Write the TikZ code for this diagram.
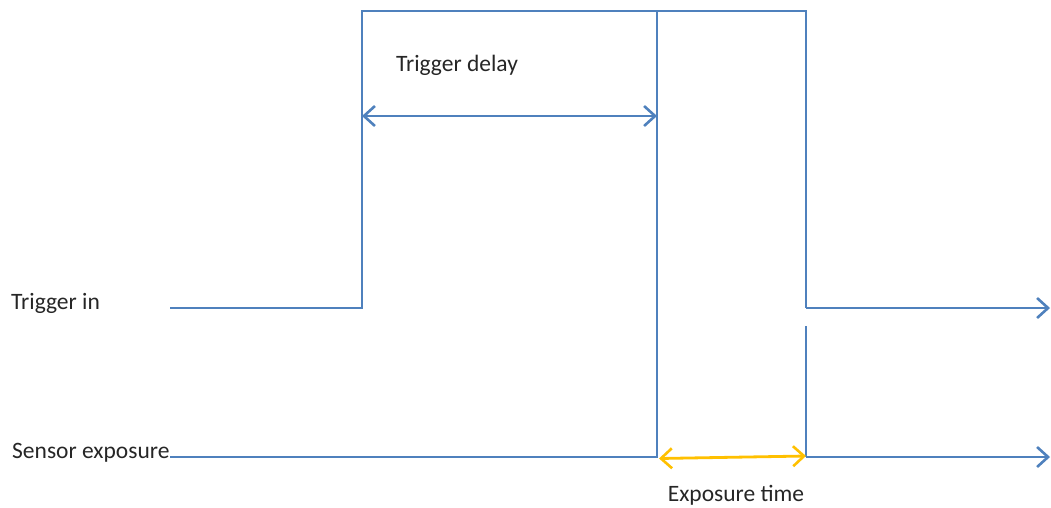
\documentclass[tikz,border=0pt]{standalone}
\usepackage{fontspec}
\setmainfont{Carlito}
\usetikzlibrary{arrows.meta}
\definecolor{sigblue}{HTML}{4F81BD}
\definecolor{expyellow}{HTML}{FFC000}
\tikzset{
  signal/.style={draw=sigblue, line width=2.8pt},
  barb/.style={-{Straight Barb[length=11pt,width=20pt,line width=2.6pt]}},
  dim/.style={line width=2.8pt, {Straight Barb[length=11pt,width=20pt,line width=2.6pt]}-{Straight Barb[length=11pt,width=20pt,line width=2.6pt]}},
  lbl/.style={inner sep=0pt, font=\fontsize{23.5}{28}\selectfont, text=black!85}
}
\begin{document}
\begin{tikzpicture}[x=1pt,y=-1pt]
\useasboundingbox (0,0) rectangle (1051,507);
% coordinates
\coordinate (t0) at (170,308);
\coordinate (t1) at (362,308);
\coordinate (t2) at (362,11);
\coordinate (t3) at (806,11);
\coordinate (t4) at (806,308);
\coordinate (t5) at (1050,308);
\coordinate (s0) at (170,457);
\coordinate (s1) at (657,457);
\coordinate (s2) at (657,11);
\coordinate (s3) at (806,326);
\coordinate (s4) at (806,457);
\coordinate (s5) at (1050,457);
\coordinate (d0) at (362,116);
\coordinate (d1) at (657,116);
\coordinate (e0) at (659,458.5);
\coordinate (e1) at (806,456);
% labels
\node[lbl, anchor=west] (ltrig) at (11,303.5) {Trigger in};
\node[lbl, anchor=west] (lsens) at (12,453) {Sensor exposure};
\node[lbl] (ldelay) at (457,65) {Trigger delay};
\node[lbl] (lexp) at (736,495.5) {Exposure time};
% trigger signal
\draw[signal] (t0) -- (t1) -- (t2) -- (t3) -- (t4);
\draw[signal, barb] (t4) -- (t5);
% sensor exposure signal
\draw[signal] (s0) -- (s1) -- (s2);
\draw[signal] (s3) -- (s4);
\draw[signal, barb] (s4) -- (s5);
% trigger delay dimension
\draw[sigblue, dim] (d0) -- (d1);
% exposure time dimension
\draw[expyellow, dim] (e0) -- (e1);
\end{tikzpicture}
\end{document}
